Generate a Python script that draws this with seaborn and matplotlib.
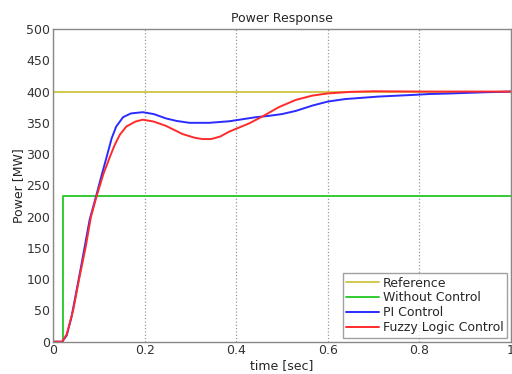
import numpy as np
import pandas as pd
import matplotlib
matplotlib.use("Agg")
import matplotlib.pyplot as plt
import seaborn as sns

# ---- data ----
t_ref = [0.0, 1.0]
p_ref = [400, 400]

t_wo = [0.0, 0.021, 0.021, 1.0]
p_wo = [0, 0, 233, 233]

t_pi = [0, 0.02, 0.03, 0.04, 0.06, 0.08, 0.095, 0.105, 0.117, 0.128, 0.138,
        0.153, 0.17, 0.196, 0.22, 0.247, 0.27, 0.298, 0.341, 0.385, 0.443,
        0.47, 0.50, 0.53, 0.566, 0.60, 0.638, 0.711, 0.783, 0.82, 0.87,
        0.94, 1.0]
p_pi = [0, 0, 10, 38, 115, 195, 235, 263, 295, 325, 344,
        359, 365, 367, 364, 357, 353, 350, 350, 352.5, 359,
        361, 364, 369, 377.5, 384, 388, 392, 394.5, 396, 397,
        398.8, 400]

t_fz = [0, 0.02, 0.03, 0.044, 0.057, 0.071, 0.083, 0.095, 0.11, 0.125, 0.135,
        0.146, 0.16, 0.18, 0.196, 0.22, 0.247, 0.283, 0.31, 0.327, 0.345,
        0.365, 0.385, 0.428, 0.457, 0.493, 0.53, 0.566, 0.60, 0.65, 0.70,
        0.80, 0.90, 1.0]
p_fz = [0, 0, 12, 50, 100, 150, 200, 232, 268, 297, 315,
        331, 344, 352, 355, 352, 345, 332, 326, 324, 324,
        328, 336, 349, 360, 375, 386.6, 393.5, 397, 399.5, 400.5,
        400, 400, 400]

labels = ["Reference", "Without Control", "PI Control", "Fuzzy Logic Control"]
colors = ["#d2c84e", "#33cc33", "#2b2bff", "#ff2b2b"]

frames = []
for lab, t, p in zip(labels, [t_ref, t_wo, t_pi, t_fz], [p_ref, p_wo, p_pi, p_fz]):
    frames.append(pd.DataFrame({"time": t, "power": p, "series": lab}))
df = pd.concat(frames, ignore_index=True)

sns.set_style("white")
plt.rcParams["font.family"] = ["DejaVu Sans"]

fig = plt.figure(figsize=(5.12, 3.74), dpi=100)
ax = fig.add_axes([0.1035, 0.0864, 0.8945, 0.836])

sns.lineplot(data=df, x="time", y="power", hue="series", hue_order=labels,
             palette=dict(zip(labels, colors)), estimator=None, sort=False,
             units="series", linewidth=1.4, ax=ax)

ax.set_xlim(0, 1)
ax.set_ylim(0, 500)
ax.set_xticks([0, 0.2, 0.4, 0.6, 0.8, 1.0])
ax.set_xticklabels(["0", "0.2", "0.4", "0.6", "0.8", "1"])
ax.set_yticks(range(0, 501, 50))
ax.tick_params(direction="in", length=3, labelsize=9, colors="#333333",
               pad=2)
ax.grid(axis="x", linestyle=":", color="#999999", linewidth=0.9)
ax.grid(axis="y", visible=False)
for s in ax.spines.values():
    s.set_color("#888888")
    s.set_linewidth(1.0)

ax.set_title("Power Response", fontsize=9, pad=5)
ax.set_xlabel("time [sec]", fontsize=9, labelpad=1)
ax.set_ylabel("Power [MW]", fontsize=9, labelpad=1)

leg = ax.legend(loc="lower right", fontsize=9, handlelength=2.6,
                frameon=True, fancybox=False, borderaxespad=0.3,
                borderpad=0.3, labelspacing=0.15, handletextpad=0.3)
leg.get_frame().set_edgecolor("#888888")
leg.get_frame().set_linewidth(1.0)

fig.savefig("out.png", dpi=100)
